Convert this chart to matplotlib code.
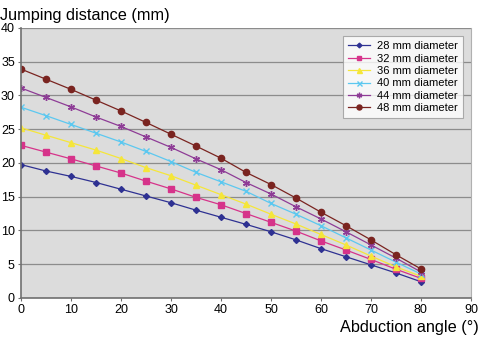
import matplotlib
matplotlib.use("Agg")
import matplotlib.pyplot as plt

plt.rcParams['font.family'] = ['Liberation Sans', 'DejaVu Sans']

angles = [0, 5, 10, 15, 20, 25, 30, 35, 40, 45, 50, 55, 60, 65, 70, 75, 80]
d28 = [19.75, 18.8, 18.0, 17.1, 16.1, 15.1, 14.1, 13.0, 11.95, 10.9, 9.8, 8.6, 7.3, 6.1, 4.9, 3.7, 2.4]
d32 = [22.6, 21.6, 20.6, 19.55, 18.5, 17.3, 16.15, 14.9, 13.8, 12.5, 11.2, 9.9, 8.45, 7.1, 5.7, 4.25, 2.9]
d36 = [25.2, 24.1, 23.0, 21.9, 20.65, 19.3, 18.1, 16.7, 15.3, 13.9, 12.4, 10.95, 9.4, 7.85, 6.2, 4.6, 3.2]
d40 = [28.25, 27.0, 25.7, 24.4, 23.1, 21.7, 20.2, 18.6, 17.2, 15.8, 14.0, 12.4, 10.7, 8.9, 7.1, 5.3, 3.55]
d44 = [31.1, 29.7, 28.3, 26.8, 25.4, 23.85, 22.3, 20.6, 19.0, 17.1, 15.4, 13.5, 11.7, 9.8, 7.85, 5.9, 3.85]
d48 = [33.9, 32.4, 30.9, 29.3, 27.7, 26.0, 24.25, 22.5, 20.7, 18.6, 16.8, 14.8, 12.7, 10.7, 8.6, 6.4, 4.3]

labels = ["28 mm diameter", "32 mm diameter", "36 mm diameter",
          "40 mm diameter", "44 mm diameter", "48 mm diameter"]
series = [d28, d32, d36, d40, d44, d48]
colors = ["#2e3192", "#d6338a", "#f5e63a", "#5cc8f0", "#8e3c96", "#7a2420"]
markers = ["D", "s", "^", "x", (6, 2, 0), "o"]
msizes = [3, 4, 4.5, 4.5, 5, 4.5]

fig = plt.figure(figsize=(4.8, 3.37), dpi=100)
ax = fig.add_axes([0.044, 0.116, 0.937, 0.801])
ax.set_facecolor("#dcdcdc")

for ys, lab, c, m, ms in zip(series, labels, colors, markers, msizes):
    ax.plot(angles, ys, color=c, lw=0.9, marker=m, markersize=ms,
            markeredgewidth=1.0, label=lab)

ax.set_xlim(0, 90)
ax.set_ylim(0, 40)
ax.set_xticks(range(0, 91, 10))
ax.set_yticks(range(0, 41, 5))
ax.grid(axis='y', color="#8c8c8c", lw=0.9)
ax.set_axisbelow(True)
ax.tick_params(labelsize=9, length=2.5, color="#707070", pad=2)
for s in ["left", "bottom"]:
    ax.spines[s].set_color("#707070")
    ax.spines[s].set_linewidth(1.2)
ax.spines["top"].set_visible(False)
ax.spines["right"].set_color("#b0b0b0")

leg = ax.legend(loc="upper right", bbox_to_anchor=(0.982, 0.970), fontsize=8,
                frameon=True, fancybox=False, edgecolor="#999999",
                handlelength=2.0, labelspacing=0.22, borderpad=0.45,
                handletextpad=0.6, markerscale=0.8, borderaxespad=0)
leg.get_frame().set_linewidth(0.8)

fig.text(0.0, 0.975, "Jumping distance (mm)", fontsize=11.7, ha="left", va="top")
fig.text(0.998, 0.005, "Abduction angle (°)", fontsize=11.7, ha="right", va="bottom")

fig.savefig("out.png", dpi=100)
